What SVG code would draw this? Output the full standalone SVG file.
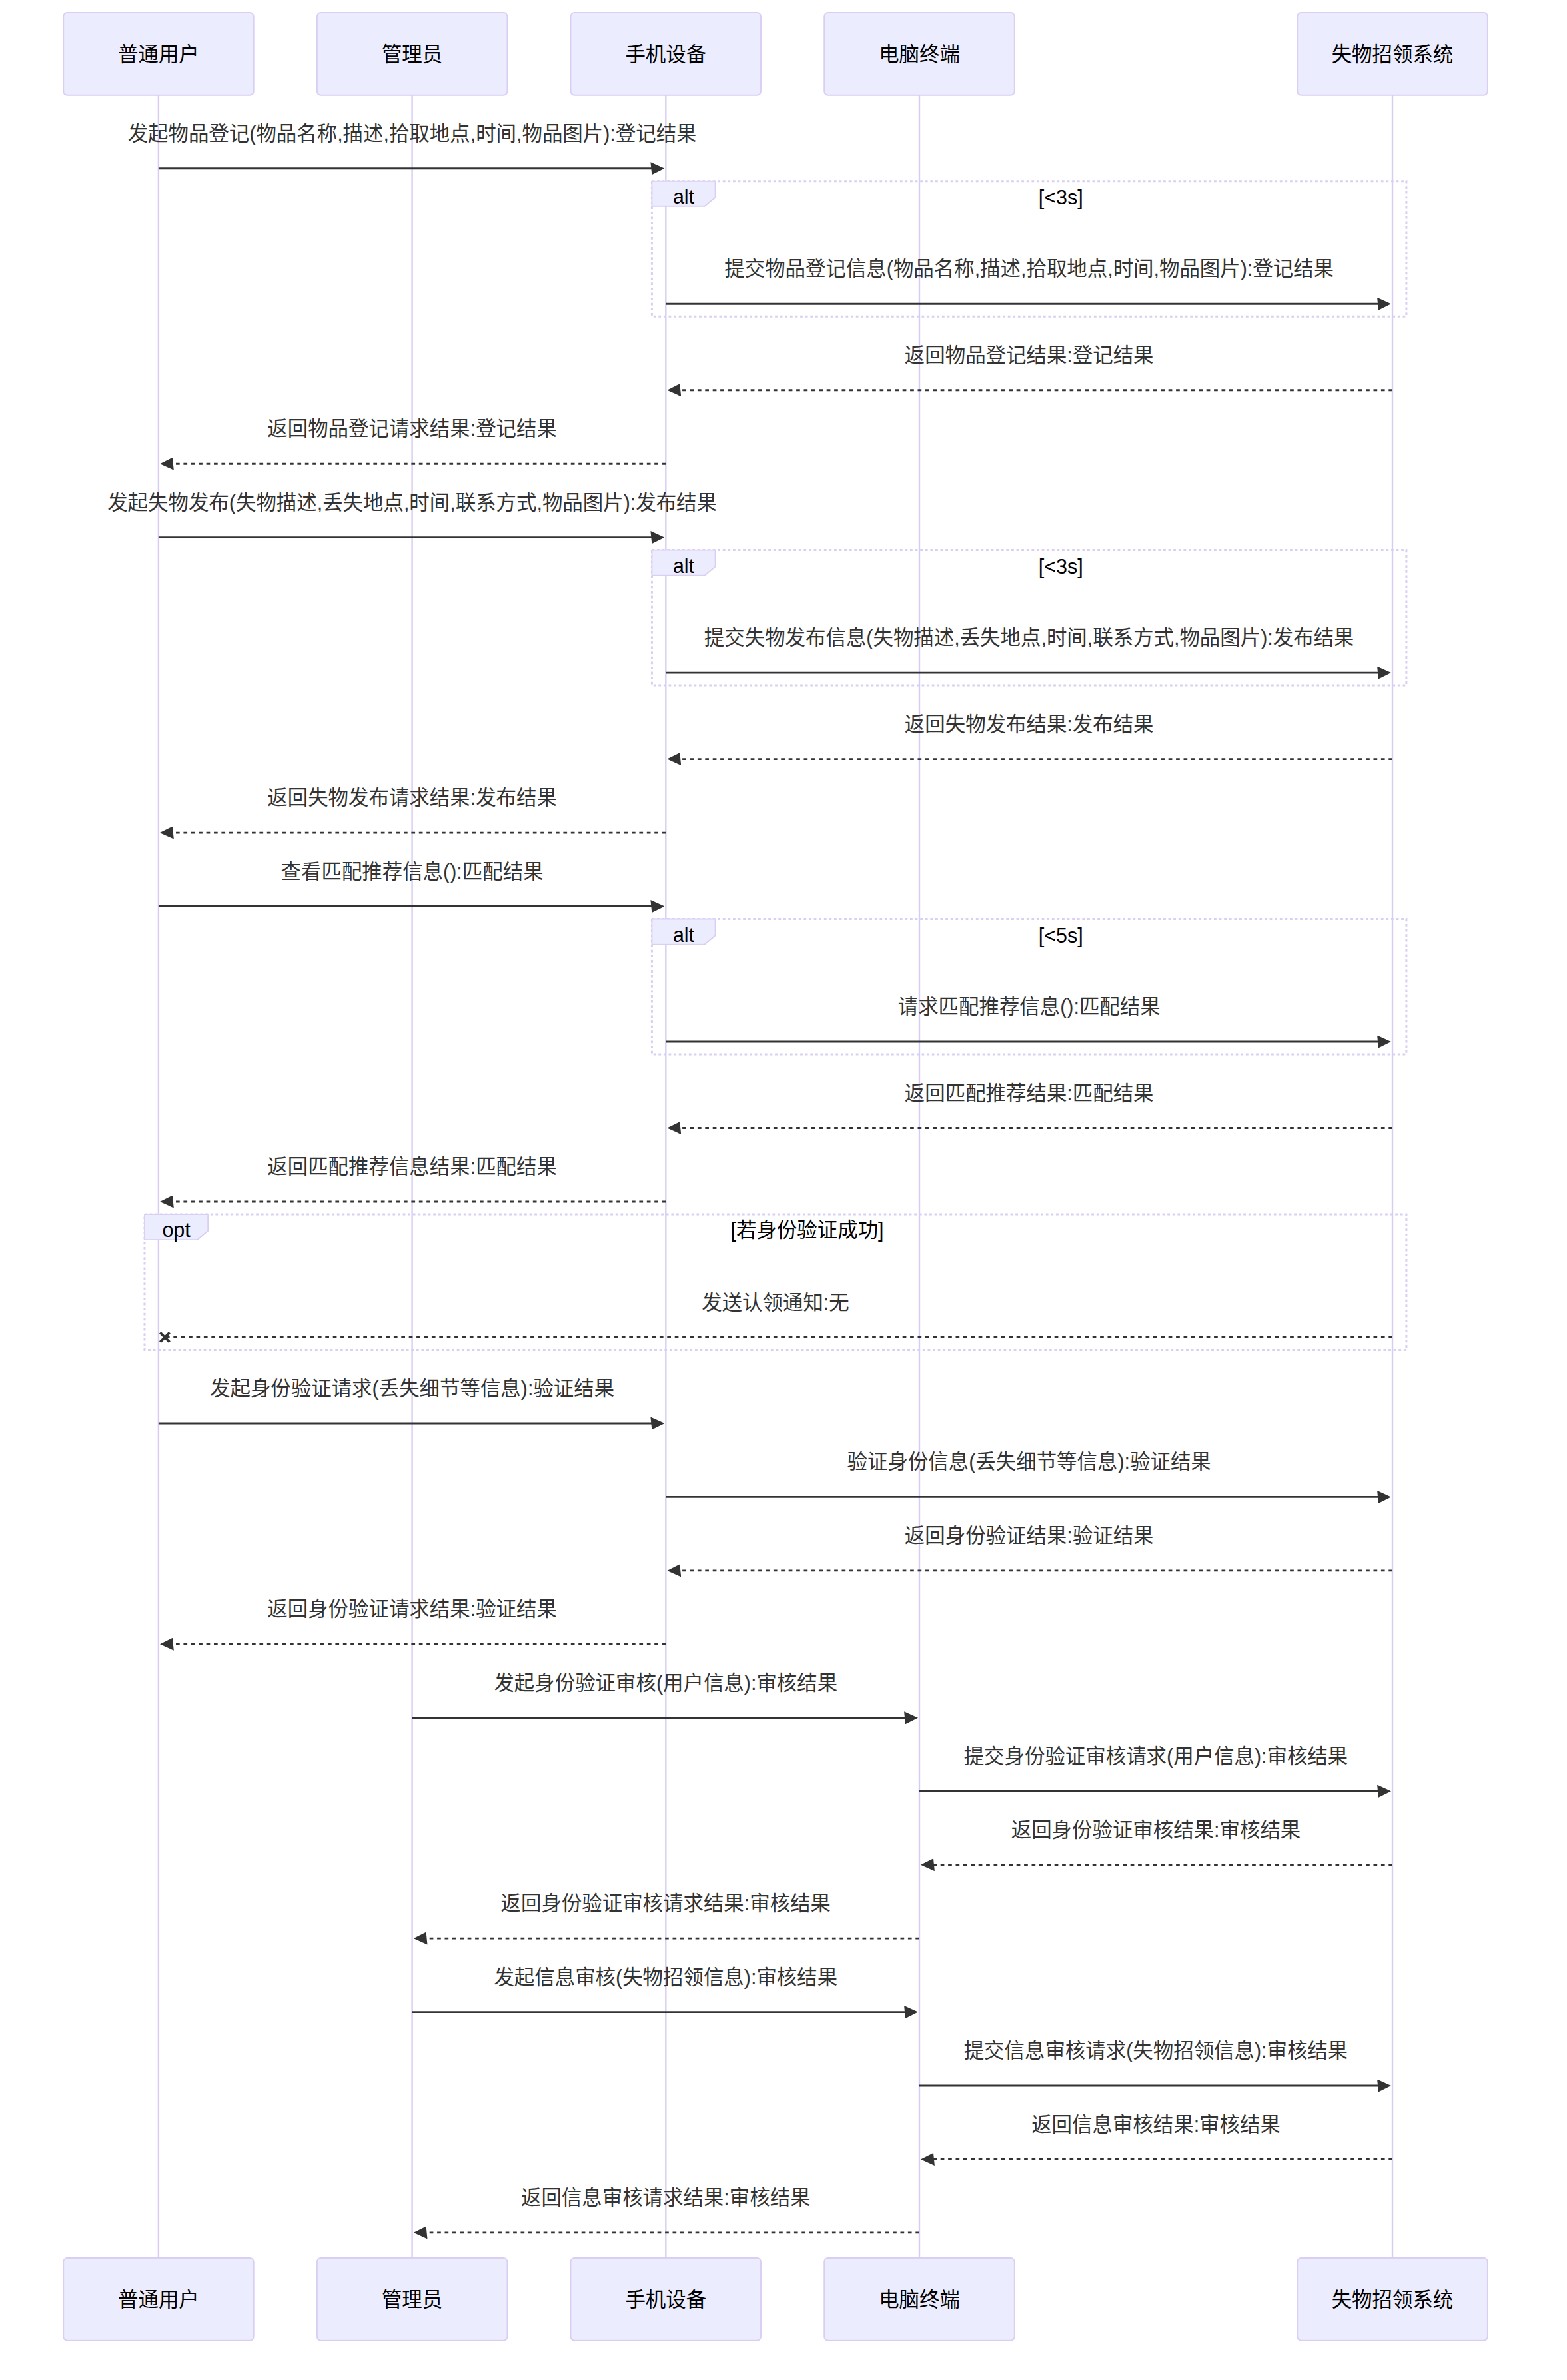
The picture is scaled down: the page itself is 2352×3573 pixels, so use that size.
<svg xmlns="http://www.w3.org/2000/svg" width="2352" height="3573" viewBox="0 0 2352 3573">
<style>
text{font-family:"Liberation Sans","Noto Sans CJK SC",sans-serif;font-size:30.45px;text-anchor:middle;dominant-baseline:central}
.actor rect{fill:#ECECFF;stroke:#DACEF3;stroke-width:1.9}
.actor text{fill:#000}
.lifeline{stroke:#D8CCF2;stroke-width:2.4}
.msg{stroke:#333;stroke-width:2.85;fill:none}
.dotted{stroke-dasharray:5.7 5.7}
.solid{marker-end:url(#arrowhead)}
.ret{marker-end:url(#arrowhead)}
.msgText{fill:#333}
.loopLine{stroke:#DACEF3;stroke-width:3;stroke-dasharray:3.8 3.8;fill:none}
.labelBox{fill:#ECECFF;stroke:#DACEF3;stroke-width:1.9}
.labelText,.loopText{fill:#000}
</style>
<defs>
<marker id="arrowhead" markerUnits="userSpaceOnUse" viewBox="-1 0 11 10" markerWidth="20.9" markerHeight="19" refX="7.9" refY="5" orient="auto">
<path d="M -1 0 L 10 5 L 0 10 z" fill="#333"/>
</marker>
<marker id="crosshead" markerUnits="userSpaceOnUse" viewBox="0 0 15 8" markerWidth="42.75" markerHeight="22.8" refX="4" refY="4.5" orient="auto" overflow="visible">
<path d="M 1,2 L 6,7 M 6,2 L 1,7" fill="none" stroke="#333" stroke-width="1.333"/>
</marker>
</defs>
<rect width="2352" height="3573" fill="#fff"/>
<g id="lifelines">
<line class="lifeline" x1="237.9" y1="142.8" x2="237.9" y2="3390"/>
<line class="lifeline" x1="618.6" y1="142.8" x2="618.6" y2="3390"/>
<line class="lifeline" x1="999.3" y1="142.8" x2="999.3" y2="3390"/>
<line class="lifeline" x1="1380" y1="142.8" x2="1380" y2="3390"/>
<line class="lifeline" x1="2090" y1="142.8" x2="2090" y2="3390"/>
</g>
<g id="frames">
<g id="alt1">
<rect class="loopLine" x="978.4" y="271.7" width="1132.5" height="203.5"/>
<polygon class="labelBox" points="978.4,271.7 1073.6,271.7 1073.6,296.5 1057.6,309.8 978.4,309.8"/>
<text class="labelText" x="1026" y="294.7">alt</text>
<text class="loopText" x="1592.2" y="295.7">[&lt;3s]</text>
</g>
<g id="alt2">
<rect class="loopLine" x="978.4" y="825.6" width="1132.5" height="203.5"/>
<polygon class="labelBox" points="978.4,825.6 1073.6,825.6 1073.6,850.4 1057.6,863.7 978.4,863.7"/>
<text class="labelText" x="1026" y="848.6">alt</text>
<text class="loopText" x="1592.2" y="849.6">[&lt;3s]</text>
</g>
<g id="alt3">
<rect class="loopLine" x="978.4" y="1379.5" width="1132.5" height="203.5"/>
<polygon class="labelBox" points="978.4,1379.5 1073.6,1379.5 1073.6,1404.3 1057.6,1417.6 978.4,1417.6"/>
<text class="labelText" x="1026" y="1402.5">alt</text>
<text class="loopText" x="1592.2" y="1403.5">[&lt;5s]</text>
</g>
<g id="opt1">
<rect class="loopLine" x="217" y="1823" width="1893.9" height="203.5"/>
<polygon class="labelBox" points="217,1823 312.2,1823 312.2,1847.8 296.2,1861.1 217,1861.1"/>
<text class="labelText" x="264.6" y="1846">opt</text>
<text class="loopText" x="1211.6" y="1846">[若身份验证成功]</text>
</g>
</g>
<g id="connectors">
<line class="msg solid" x1="237.9" y1="252.7" x2="993.3" y2="252.7"/>
<text class="msgText" x="618.6" y="199.7">发起物品登记(物品名称,描述,拾取地点,时间,物品图片):登记结果</text>
<line class="msg solid" x1="999.3" y1="456.2" x2="2084" y2="456.2"/>
<text class="msgText" x="1544.7" y="403.2">提交物品登记信息(物品名称,描述,拾取地点,时间,物品图片):登记结果</text>
<line class="msg dotted ret" x1="2090" y1="585.7" x2="1005.3" y2="585.7"/>
<text class="msgText" x="1544.7" y="532.7">返回物品登记结果:登记结果</text>
<line class="msg dotted ret" x1="999.3" y1="696.2" x2="243.9" y2="696.2"/>
<text class="msgText" x="618.6" y="643.2">返回物品登记请求结果:登记结果</text>
<line class="msg solid" x1="237.9" y1="806.6" x2="993.3" y2="806.6"/>
<text class="msgText" x="618.6" y="753.6">发起失物发布(失物描述,丢失地点,时间,联系方式,物品图片):发布结果</text>
<line class="msg solid" x1="999.3" y1="1010.1" x2="2084" y2="1010.1"/>
<text class="msgText" x="1544.7" y="957.1">提交失物发布信息(失物描述,丢失地点,时间,联系方式,物品图片):发布结果</text>
<line class="msg dotted ret" x1="2090" y1="1139.6" x2="1005.3" y2="1139.6"/>
<text class="msgText" x="1544.7" y="1086.6">返回失物发布结果:发布结果</text>
<line class="msg dotted ret" x1="999.3" y1="1250.1" x2="243.9" y2="1250.1"/>
<text class="msgText" x="618.6" y="1197.1">返回失物发布请求结果:发布结果</text>
<line class="msg solid" x1="237.9" y1="1360.5" x2="993.3" y2="1360.5"/>
<text class="msgText" x="618.6" y="1307.5">查看匹配推荐信息():匹配结果</text>
<line class="msg solid" x1="999.3" y1="1564" x2="2084" y2="1564"/>
<text class="msgText" x="1544.7" y="1511">请求匹配推荐信息():匹配结果</text>
<line class="msg dotted ret" x1="2090" y1="1693.5" x2="1005.3" y2="1693.5"/>
<text class="msgText" x="1544.7" y="1640.5">返回匹配推荐结果:匹配结果</text>
<line class="msg dotted ret" x1="999.3" y1="1804" x2="243.9" y2="1804"/>
<text class="msgText" x="618.6" y="1751">返回匹配推荐信息结果:匹配结果</text>
<line class="msg dotted" x1="2090" y1="2007.5" x2="246" y2="2007.5" marker-end="url(#crosshead)"/>
<text class="msgText" x="1164" y="1954.5">发送认领通知:无</text>
<line class="msg solid" x1="237.9" y1="2137" x2="993.3" y2="2137"/>
<text class="msgText" x="618.6" y="2084">发起身份验证请求(丢失细节等信息):验证结果</text>
<line class="msg solid" x1="999.3" y1="2247.4" x2="2084" y2="2247.4"/>
<text class="msgText" x="1544.7" y="2194.4">验证身份信息(丢失细节等信息):验证结果</text>
<line class="msg dotted ret" x1="2090" y1="2357.9" x2="1005.3" y2="2357.9"/>
<text class="msgText" x="1544.7" y="2304.9">返回身份验证结果:验证结果</text>
<line class="msg dotted ret" x1="999.3" y1="2468.3" x2="243.9" y2="2468.3"/>
<text class="msgText" x="618.6" y="2415.3">返回身份验证请求结果:验证结果</text>
<line class="msg solid" x1="618.6" y1="2578.8" x2="1374" y2="2578.8"/>
<text class="msgText" x="999.3" y="2525.8">发起身份验证审核(用户信息):审核结果</text>
<line class="msg solid" x1="1380" y1="2689.2" x2="2084" y2="2689.2"/>
<text class="msgText" x="1735" y="2636.2">提交身份验证审核请求(用户信息):审核结果</text>
<line class="msg dotted ret" x1="2090" y1="2799.7" x2="1386" y2="2799.7"/>
<text class="msgText" x="1735" y="2746.7">返回身份验证审核结果:审核结果</text>
<line class="msg dotted ret" x1="1380" y1="2910.1" x2="624.6" y2="2910.1"/>
<text class="msgText" x="999.3" y="2857.1">返回身份验证审核请求结果:审核结果</text>
<line class="msg solid" x1="618.6" y1="3020.6" x2="1374" y2="3020.6"/>
<text class="msgText" x="999.3" y="2967.6">发起信息审核(失物招领信息):审核结果</text>
<line class="msg solid" x1="1380" y1="3131" x2="2084" y2="3131"/>
<text class="msgText" x="1735" y="3078">提交信息审核请求(失物招领信息):审核结果</text>
<line class="msg dotted ret" x1="2090" y1="3241.5" x2="1386" y2="3241.5"/>
<text class="msgText" x="1735" y="3188.5">返回信息审核结果:审核结果</text>
<line class="msg dotted ret" x1="1380" y1="3351.9" x2="624.6" y2="3351.9"/>
<text class="msgText" x="999.3" y="3298.9">返回信息审核请求结果:审核结果</text>
</g>
<g id="actor-user-top" class="actor"><rect x="95.2" y="19" width="285.5" height="123.7" rx="5.7"/><text x="237.9" y="80.9">普通用户</text></g>
<g id="actor-admin-top" class="actor"><rect x="475.9" y="19" width="285.5" height="123.7" rx="5.7"/><text x="618.6" y="80.9">管理员</text></g>
<g id="actor-phone-top" class="actor"><rect x="856.5" y="19" width="285.5" height="123.7" rx="5.7"/><text x="999.3" y="80.9">手机设备</text></g>
<g id="actor-pc-top" class="actor"><rect x="1237.2" y="19" width="285.5" height="123.7" rx="5.7"/><text x="1380" y="80.9">电脑终端</text></g>
<g id="actor-system-top" class="actor"><rect x="1947.3" y="19" width="285.5" height="123.7" rx="5.7"/><text x="2090" y="80.9">失物招领系统</text></g>
<g id="actor-user-bottom" class="actor"><rect x="95.2" y="3390" width="285.5" height="123.7" rx="5.7"/><text x="237.9" y="3451.9">普通用户</text></g>
<g id="actor-admin-bottom" class="actor"><rect x="475.9" y="3390" width="285.5" height="123.7" rx="5.7"/><text x="618.6" y="3451.9">管理员</text></g>
<g id="actor-phone-bottom" class="actor"><rect x="856.5" y="3390" width="285.5" height="123.7" rx="5.7"/><text x="999.3" y="3451.9">手机设备</text></g>
<g id="actor-pc-bottom" class="actor"><rect x="1237.2" y="3390" width="285.5" height="123.7" rx="5.7"/><text x="1380" y="3451.9">电脑终端</text></g>
<g id="actor-system-bottom" class="actor"><rect x="1947.3" y="3390" width="285.5" height="123.7" rx="5.7"/><text x="2090" y="3451.9">失物招领系统</text></g>
</svg>
